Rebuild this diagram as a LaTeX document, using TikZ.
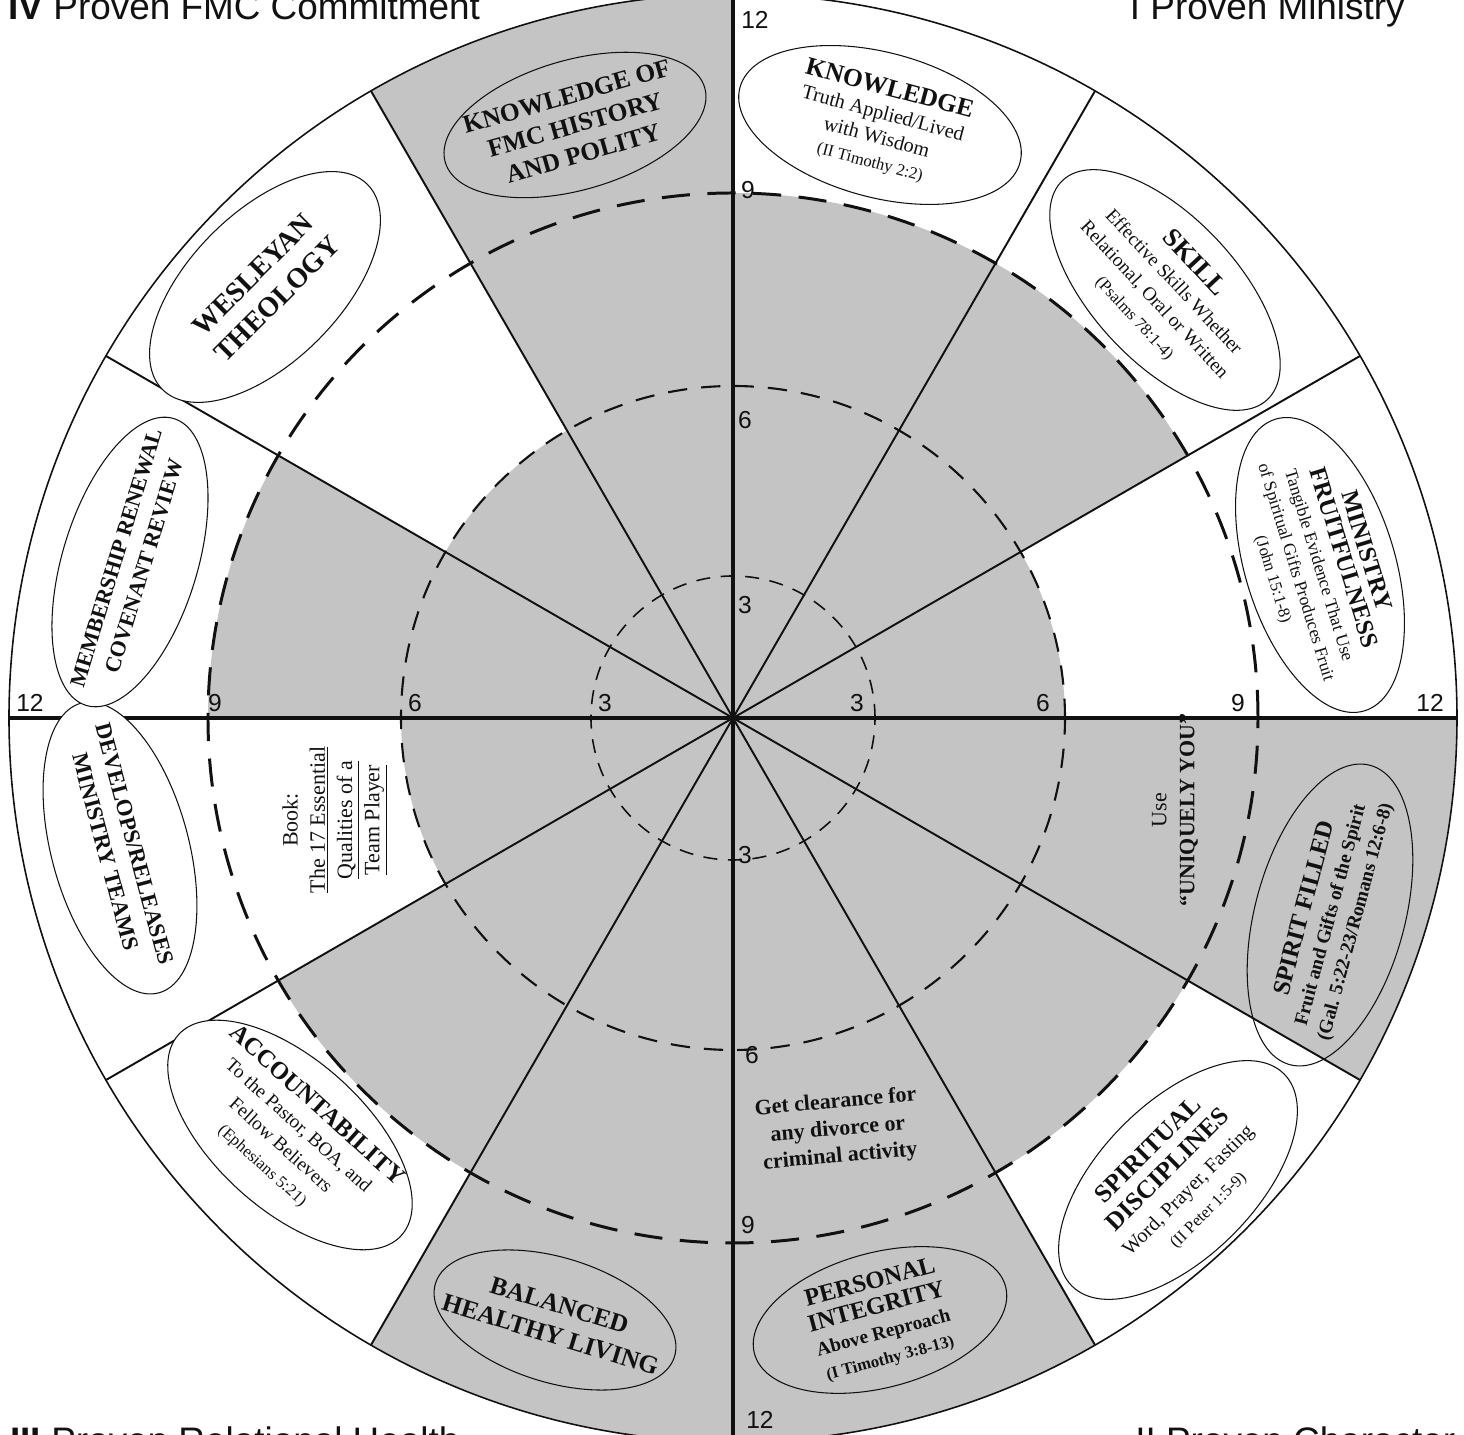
\documentclass[tikz,border=0pt]{standalone}
\usepackage{fontspec}
\setmainfont{Liberation Serif}
\setsansfont{Liberation Sans}
\usetikzlibrary{shapes.geometric}
\definecolor{ink}{HTML}{111111}
\definecolor{stipple}{HTML}{C4C4C4}
\tikzset{
  axis/.style={draw=ink, line width=2.3pt},
  spoke/.style={draw=ink, line width=1.1pt},
  rim/.style={draw=ink, line width=0.9pt},
  oval/.style 2 args={ellipse, draw=ink, line width=0.6pt, minimum width=#1, minimum height=#2, inner sep=0pt},
  ovaltext/.style={align=center, inner sep=0pt, text=ink, font=\fontsize{11}{14.5}\selectfont},
  num/.style={font=\sffamily\fontsize{14}{14}\selectfont, text=ink, inner sep=1pt},
  corner/.style={font=\sffamily\fontsize{21}{21}\selectfont, text=ink, inner sep=0pt},
}
\newcommand\ovhead[2][14]{{\fontsize{#1}{#1}\selectfont\bfseries #2}}
\newcommand\scripref[1]{{\fontsize{9.5}{10}\selectfont #1}}

\begin{document}
\begin{tikzpicture}[x=0.02cm, y=0.02cm,
  ringnine/.style={draw=ink, line width=1.7pt, dash pattern=on 16pt off 10pt},
  ringsix/.style={draw=ink, line width=1.2pt, dash pattern=on 11pt off 8pt},
  ringthree/.style={draw=ink, line width=0.9pt, dash pattern=on 8pt off 6pt}]
\useasboundingbox (-733,-717) rectangle (731,718);
\coordinate (o) at (0,0);

% shaded scores per sector
\foreach \a/\r in {0/332,30/525,60/525,90/724,120/332,150/525,180/332,210/525,240/724,270/724,300/525,330/724}
  {\fill[stipple] (o) -- (\a:\r) arc[start angle=\a, delta angle=30, radius=\r] -- cycle;}

\draw[ringnine] (o) circle[radius=525];
\draw[ringsix] (o) circle[radius=332];
\draw[ringthree] (o) circle[radius=142];
\foreach \a in {30,60,120,150,210,240,300,330} {\draw[spoke] (o) -- (\a:724);}
\draw[rim] (o) circle[radius=724];
\draw[axis] (0,718) -- (0,-717);
\draw[axis] (-724,0) -- (724,0);

% I proven ministry
\node[oval={5.8cm}{2.9cm}, fill=white, rotate=-15] (know) at (147,593) {};
\node[ovaltext, rotate=-15, font=\fontsize{11.5}{14}\selectfont] (know-t) at (know) {\ovhead[14.5]{KNOWLEDGE}\\Truth Applied/Lived\\with Wisdom\\\scripref{(II Timothy 2:2)}};
\node[oval={6cm}{2.9cm}, fill=white, rotate=-47] (skill) at (432,428) {};
\node[ovaltext, rotate=-47, font=\fontsize{11}{15}\selectfont] (skill-t) at (skill) {\ovhead[15]{SKILL}\\Effective Skills Whether\\Relational, Oral or Written\\\scripref{(Psalms 78:1-4)}};
\node[oval={6.1cm}{3cm}, fill=white, rotate=-73] (fruit) at (587,153) {};
\node[ovaltext, rotate=-73, font=\fontsize{10}{13.5}\selectfont] (fruit-t) at (fruit) {\ovhead{MINISTRY}\\\ovhead{FRUITFULNESS}\\Tangible Evidence That Use\\of Spiritual Gifts Produces Fruit\\\scripref{(John 15:1-8)}};

% II proven character
\node[oval={6.2cm}{3cm}, rotate=75] (spirit) at (597,-197) {};
\node[ovaltext, rotate=75, font=\fontsize{11}{14.5}\selectfont\bfseries] (spirit-t) at (spirit) {\ovhead{SPIRIT FILLED}\\Fruit and Gifts of the Spirit\\(Gal. 5:22-23/Romans 12:6-8)};
\node[oval={6cm}{3.1cm}, fill=white, rotate=45] (disc) at (445,-462) {};
\node[ovaltext, rotate=45, font=\fontsize{11.5}{15.5}\selectfont] (disc-t) at (disc) {\ovhead[14.5]{SPIRITUAL}\\\ovhead[14.5]{DISCIPLINES}\\Word, Prayer, Fasting\\\scripref{(II Peter 1:5-9)}};
\node[oval={5.2cm}{2.7cm}, rotate=15] (integ) at (147,-602) {};
\node[ovaltext, rotate=15, font=\fontsize{11}{14.5}\selectfont\bfseries] (integ-t) at (integ) {\ovhead{PERSONAL}\\\ovhead{INTEGRITY}\\Above Reproach\\\scripref{\bfseries(I Timothy 3:8-13)}};
\node[ovaltext, rotate=5, font=\fontsize{12.5}{15.5}\selectfont\bfseries] (clear) at (105,-412) {Get clearance for\\any divorce or\\criminal activity};
\node[ovaltext, rotate=90, font=\fontsize{12.5}{16}\selectfont] (unique) at (442,-92) {Use\\\textbf{``UNIQUELY YOU''}};

% III proven relational health
\node[oval={5cm}{2.5cm}, rotate=-17] (bal) at (-178,-602) {};
\node[ovaltext, rotate=-17, font=\fontsize{14.5}{17.5}\selectfont] (bal-t) at (bal) {\ovhead[14.5]{BALANCED}\\\ovhead[14.5]{HEALTHY LIVING}};
\node[oval={6cm}{3cm}, fill=white, rotate=-42] (acct) at (-443,-417) {};
\node[ovaltext, rotate=-42, font=\fontsize{11}{15}\selectfont] (acct-t) at (acct) {\ovhead{ACCOUNTABILITY}\\To the Pastor, BOA, and\\Fellow Believers\\\scripref{(Ephesians 5:21)}};
\node[oval={6cm}{2.75cm}, fill=white, rotate=-75] (dev) at (-613,-130) {};
\node[ovaltext, rotate=-75, font=\fontsize{13}{17}\selectfont] (dev-t) at (dev) {\ovhead[13]{DEVELOPS/RELEASES}\\\ovhead[13]{MINISTRY TEAMS}};
\node[ovaltext, rotate=90, font=\fontsize{12.5}{15.5}\selectfont] (book) at (-398,-102) {Book:\\\underline{The 17 Essential}\\\underline{Qualities of a}\\\underline{Team Player}};

% IV proven FMC commitment
\node[oval={6cm}{2.7cm}, fill=white, rotate=73] (memb) at (-603,156) {};
\node[ovaltext, rotate=73, font=\fontsize{12.5}{16.5}\selectfont] (memb-t) at (memb) {\ovhead[12.5]{MEMBERSHIP RENEWAL}\\\ovhead[12.5]{COVENANT REVIEW}};
\node[oval={5.8cm}{3cm}, fill=white, rotate=45] (wes) at (-468,431) {};
\node[ovaltext, rotate=45, font=\fontsize{16}{19.5}\selectfont] (wes-t) at (wes) {\ovhead[16]{WESLEYAN}\\\ovhead[16]{THEOLOGY}};
\node[oval={5.4cm}{2.6cm}, rotate=16] (fmc) at (-158,593) {};
\node[ovaltext, rotate=16, font=\fontsize{14.5}{17}\selectfont] (fmc-t) at (fmc) {\ovhead[14.5]{KNOWLEDGE OF}\\\ovhead[14.5]{FMC HISTORY}\\\ovhead[14.5]{AND POLITY}};

% scale numbers
\foreach \nm/\n/\p in {t12/12/{22,698}, t9/9/{15,528}, t6/6/{12,298}, t3/3/{12,113},
    r3/3/{124,15}, r6/6/{310,15}, r9/9/{505,15}, r12/12/{697,15},
    l12/12/{-703,15}, l9/9/{-518,15}, l6/6/{-318,15}, l3/3/{-128,15},
    b3/3/{12,-137}, b6/6/{19,-337}, b9/9/{15,-507}, b12/12/{27,-702}}
  {\node[num] (\nm) at (\p) {\n};}

% quadrant titles
\node[corner, anchor=base west] (q4) at (-725,698) {\textbf{IV} Proven FMC Commitment};
\node[corner, anchor=base east] (q1) at (672,698) {I Proven Ministry};
\node[corner, anchor=base west] (q3) at (-723,-736) {\textbf{III} Proven Relational Health};
\node[corner, anchor=base west] (q2) at (402,-736) {II Proven Character};
\end{tikzpicture}
\end{document}
